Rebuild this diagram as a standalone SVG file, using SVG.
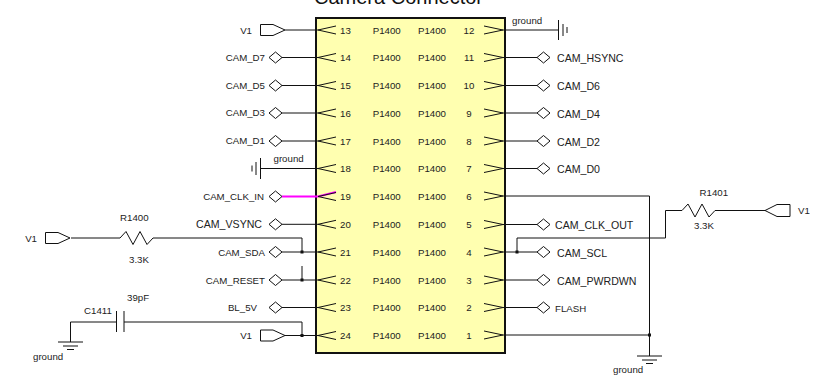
<svg xmlns="http://www.w3.org/2000/svg" width="827" height="377" viewBox="0 0 827 377">
<style>
text{font-family:"Liberation Sans",Arial,sans-serif;font-size:9.7px;fill:#222}
.l{text-anchor:end}
.b{font-size:10.6px}
.t{font-size:20px;fill:#111}
.w{fill:none;stroke:#111;stroke-width:1}
.s{fill:#fff;stroke:#111;stroke-width:1}
.j{fill:#111}
</style>
<defs>
<path id="d" class="s" d="M-6.500 0L0-5.500L6.500 0L0 5.500Z"/>
<path id="vr" class="s" d="M0-5.500H12.500L24.500 0L12.500 5.500H0Z"/>
<path id="pl" class="w" d="M336-4L318 0L336 4"/>
<path id="pr" class="w" d="M484-4L503 0L484 4"/>
<path id="r" class="w" d="M0 0H3L9-6.500L16 6.500L23-6.500L30 6.500L36 0H40"/>
<path id="g" class="w" d="M-12.500 0H12.500M-7.500 4H7.500M-3.500 7.500H3.500"/>
</defs>
<g id="connector-box">
<text class="t" x="314" y="4">Camera Connector</text>
<rect x="316" y="18" width="189" height="335" fill="#ffffb0" stroke="#111" stroke-width="2"/>
</g>
<g id="connectors">
<path class="w" d="M285 30H318M282 57.500H318M282 85.500H318M282 113H318M282 141H318M261 168.500H318M282 224.300H318M282 252H318M282 280H318M282 307.500H318M285 335.500H318"/>
<path d="M282 196.500H318L336 192" fill="none" stroke="#f0f" stroke-width="2"/>
<path class="w" d="M503 30H558.500M503 57.500H537M503 85.500H537M503 113H537M503 141H537M503 168.500H537M503 196H649.500V356M503 224.500H537M503 252H537M503 280H537M503 307.500H537M503 335H649.500"/>
<path class="w" d="M71 238H117M157 238H302V252M302 266V280M70.500 342V322H116.500M124 322H302V335.500"/>
<path class="w" d="M517 252V238H665.500V210.500H679M719 210.500H765"/>
<rect class="j" x="300.500" y="250.500" width="3" height="3"/>
<rect class="j" x="300.500" y="278.500" width="3" height="3"/>
<rect class="j" x="300.500" y="334" width="3" height="3"/>
<rect class="j" x="515.500" y="250.500" width="3" height="3"/>
<rect class="j" x="648" y="333.500" width="3" height="3"/>
</g>
<g id="pins-left">
<use href="#pl" y="30"/><use href="#pl" y="57.500"/><use href="#pl" y="85.500"/><use href="#pl" y="113"/><use href="#pl" y="141"/><use href="#pl" y="168.500"/><use href="#pl" y="196.500"/><use href="#pl" y="224.300"/><use href="#pl" y="252"/><use href="#pl" y="280"/><use href="#pl" y="307.500"/><use href="#pl" y="335.500"/>
<g text-anchor="middle">
<text x="345.500" y="33.500">13</text><text x="345.500" y="61">14</text><text x="345.500" y="89">15</text><text x="345.500" y="116.500">16</text><text x="345.500" y="144.500">17</text><text x="345.500" y="172">18</text><text x="345.500" y="200">19</text><text x="345.500" y="228">20</text><text x="345.500" y="255.500">21</text><text x="345.500" y="283.500">22</text><text x="345.500" y="311">23</text><text x="345.500" y="339">24</text>
<text x="386.700" y="33.500">P1400</text><text x="386.700" y="61">P1400</text><text x="386.700" y="89">P1400</text><text x="386.700" y="116.500">P1400</text><text x="386.700" y="144.500">P1400</text><text x="386.700" y="172">P1400</text><text x="386.700" y="200">P1400</text><text x="386.700" y="228">P1400</text><text x="386.700" y="255.500">P1400</text><text x="386.700" y="283.500">P1400</text><text x="386.700" y="311">P1400</text><text x="386.700" y="339">P1400</text>
</g>
</g>
<g id="pins-right">
<use href="#pr" y="30"/><use href="#pr" y="57.500"/><use href="#pr" y="85.500"/><use href="#pr" y="113"/><use href="#pr" y="141"/><use href="#pr" y="168.500"/><use href="#pr" y="196"/><use href="#pr" y="224.500"/><use href="#pr" y="252"/><use href="#pr" y="280"/><use href="#pr" y="307.500"/><use href="#pr" y="335"/>
<g text-anchor="middle">
<text x="432" y="33.500">P1400</text><text x="432" y="61">P1400</text><text x="432" y="89">P1400</text><text x="432" y="116.500">P1400</text><text x="432" y="144.500">P1400</text><text x="432" y="172">P1400</text><text x="432" y="200">P1400</text><text x="432" y="228">P1400</text><text x="432" y="255.500">P1400</text><text x="432" y="283.500">P1400</text><text x="432" y="311">P1400</text><text x="432" y="339">P1400</text>
<text x="469" y="33.500">12</text><text x="469" y="61">11</text><text x="469" y="89">10</text><text x="469" y="116.500">9</text><text x="469" y="144.500">8</text><text x="469" y="172">7</text><text x="469" y="200">6</text><text x="469" y="228">5</text><text x="469" y="255.500">4</text><text x="469" y="283.500">3</text><text x="469" y="311">2</text><text x="469" y="339">1</text>
</g>
</g>
<g id="V1-13"><use href="#vr" x="260.500" y="30"/><text class="l" x="252" y="33.500">V1</text></g>
<g id="CAM_D7"><use href="#d" x="275.500" y="57.500"/><text class="l" x="265" y="60.500">CAM_D7</text></g>
<g id="CAM_D5"><use href="#d" x="275.500" y="85.500"/><text class="l" x="265" y="88.500">CAM_D5</text></g>
<g id="CAM_D3"><use href="#d" x="275.500" y="113"/><text class="l" x="265" y="116">CAM_D3</text></g>
<g id="CAM_D1"><use href="#d" x="275.500" y="141"/><text class="l" x="265" y="144">CAM_D1</text></g>
<g id="ground-18"><path class="w" d="M260.500 158V179M256 162V175M252 165.500V171.500"/><text x="273.500" y="162">ground</text></g>
<g id="CAM_CLK_IN"><use href="#d" x="275.500" y="196.500"/><text class="l" x="264" y="200">CAM_CLK_IN</text></g>
<g id="CAM_VSYNC"><use href="#d" x="275.500" y="224.300"/><text class="l b" x="262" y="228">CAM_VSYNC</text></g>
<g id="CAM_SDA"><use href="#d" x="275.500" y="252"/><text class="l" x="265" y="256">CAM_SDA</text></g>
<g id="CAM_RESET"><use href="#d" x="275.500" y="280"/><text class="l" x="265" y="284">CAM_RESET</text></g>
<g id="BL_5V"><use href="#d" x="275.500" y="307.500"/><text class="l" x="257" y="311">BL_5V</text></g>
<g id="V1-24"><use href="#vr" x="260.500" y="335.500"/><text class="l" x="252" y="339">V1</text></g>
<g id="V1-R1400"><use href="#vr" x="45.500" y="238"/><text class="l" x="37" y="241.500">V1</text></g>
<g id="R1400"><use href="#r" x="117" y="238"/><text x="120" y="221">R1400</text><text x="129" y="262.500">3.3K</text></g>
<g id="C1411"><path class="w" d="M116.500 311V332M124 311V332"/><text x="84" y="314">C1411</text><text x="127" y="301">39pF</text></g>
<g id="ground-c"><use href="#g" x="70.500" y="342"/><text x="33" y="360">ground</text></g>
<g id="ground-12"><path class="w" d="M558.500 20V40M563 24V36M567 27V33"/><text x="512" y="24">ground</text></g>
<g id="CAM_HSYNC"><use href="#d" x="543.500" y="57.500"/><text class="b" x="557" y="62">CAM_HSYNC</text></g>
<g id="CAM_D6"><use href="#d" x="543.500" y="85.500"/><text class="b" x="557" y="90">CAM_D6</text></g>
<g id="CAM_D4"><use href="#d" x="543.500" y="113"/><text class="b" x="557" y="117.500">CAM_D4</text></g>
<g id="CAM_D2"><use href="#d" x="543.500" y="141"/><text class="b" x="557" y="145.500">CAM_D2</text></g>
<g id="CAM_D0"><use href="#d" x="543.500" y="168.500"/><text class="b" x="557" y="173">CAM_D0</text></g>
<g id="CAM_CLK_OUT"><use href="#d" x="543.500" y="224.500"/><text class="b" x="555" y="229">CAM_CLK_OUT</text></g>
<g id="CAM_SCL"><use href="#d" x="543.500" y="252"/><text class="b" x="557" y="256.500">CAM_SCL</text></g>
<g id="CAM_PWRDWN"><use href="#d" x="543.500" y="280"/><text class="b" x="557" y="284.500">CAM_PWRDWN</text></g>
<g id="FLASH"><use href="#d" x="543.500" y="307.500"/><text x="555" y="311.500">FLASH</text></g>
<g id="ground-1"><use href="#g" x="649.500" y="356"/><text x="613" y="373">ground</text></g>
<g id="R1401"><use href="#r" x="679" y="210.500"/><text x="699.500" y="196">R1401</text><text x="694" y="229">3.3K</text></g>
<g id="V1-R1401"><path class="s" d="M790 204.500H777L765 210.500L777 216.500H790Z"/><text x="798" y="213.500">V1</text></g>
</svg>
